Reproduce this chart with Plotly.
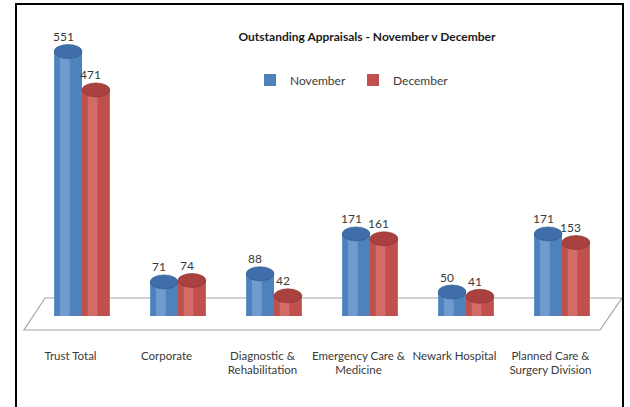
import plotly.graph_objects as go

# ---- data ----
categories = ["Trust Total", "Corporate", "Diagnostic &<br>Rehabilitation",
              "Emergency Care &<br>Medicine", "Newark Hospital",
              "Planned Care &<br>Surgery Division"]
november = [551, 71, 88, 171, 50, 171]
december = [471, 74, 42, 161, 41, 153]
series_names = ["November", "December"]
title_text = "Outstanding Appraisals - November v December"

# ---- layout constants ----
WIDTH, HEIGHT = 630, 407
ML, MR, MT, MB = 34, 20, 28, 91
PW = WIDTH - ML - MR
PH = HEIGHT - MT - MB
FONT = "Lato, Carlito, sans-serif"
TXT = "#3a3a3a"

def px_x(p):
    return (p - ML) / PW

def px_y(p):
    return (HEIGHT - MB - p) / PH

BW = 0.29
idx = list(range(len(categories)))
offsets = [-BW / 2, BW / 2]
body_colors = ["#4F81BD", "#C0504D"]
cap_colors = ["#3F6EAA", "#A9423F"]
edge_colors = ["#2F5A8C", "#8C3330"]
hi_colors = ["rgba(140,175,225,0.55)", "rgba(225,130,125,0.55)"]

fig = go.Figure()
shapes = []

# floor (decoration)
shapes.append(dict(
    type="path", xref="paper", yref="paper", layer="below",
    path=(f"M {px_x(45)} {px_y(298)} L {px_x(622)} {px_y(298)} "
          f"L {px_x(600)} {px_y(330)} L {px_x(24)} {px_y(330)} Z"),
    fillcolor="white", line=dict(color="#A6A6A6", width=1.2)))

for s, (name, vals) in enumerate(zip(series_names, [november, december])):
    xs = [i + offsets[s] for i in idx]
    fig.add_trace(go.Bar(
        x=xs, y=vals, width=BW, name=name,
        marker=dict(color=body_colors[s], line=dict(width=0)),
        hoverinfo="name+y"))
    # highlight strip for cylinder look
    fig.add_trace(go.Bar(
        x=[x - BW * 0.12 for x in xs], y=vals, width=BW * 0.35,
        marker=dict(color=hi_colors[s], line=dict(width=0)),
        showlegend=False, hoverinfo="skip"))
    for x, v in zip(xs, vals):
        # bottom ellipse
        shapes.append(dict(type="circle", xref="x", yref="y", layer="below",
                           x0=x - BW / 2, x1=x + BW / 2,
                           ysizemode="pixel", yanchor=0, y0=-5, y1=5,
                           fillcolor=body_colors[s], line=dict(width=0)))
        # top cap
        shapes.append(dict(type="circle", xref="x", yref="y", layer="above",
                           x0=x - BW / 2, x1=x + BW / 2,
                           ysizemode="pixel", yanchor=v, y0=-7, y1=7,
                           fillcolor=cap_colors[s],
                           line=dict(color=edge_colors[s], width=0.6)))
        fig.add_annotation(x=x, y=v, xref="x", yref="y", text=str(v),
                           showarrow=False, yshift=15, xshift=-5,
                           font=dict(family=FONT, size=12, color=TXT))

# outer border (left, top, right)
shapes.append(dict(type="path", xref="paper", yref="paper", layer="above",
                   path=(f"M {px_x(16)} {px_y(420)} L {px_x(16)} {px_y(4)} "
                         f"L {px_x(623)} {px_y(4)} L {px_x(623)} {px_y(420)}"),
                   line=dict(color="black", width=2)))

fig.update_layout(
    width=WIDTH, height=HEIGHT,
    margin=dict(l=ML, r=MR, t=MT, b=MB),
    paper_bgcolor="white", plot_bgcolor="white",
    barmode="overlay",
    shapes=shapes,
    font=dict(family=FONT, size=12, color=TXT),
    title=dict(text="<b>" + title_text + "</b>", x=px_x(367), xref="paper",
               xanchor="center", y=1 - 37 / HEIGHT, yanchor="middle",
               font=dict(family=FONT, size=12, color="#1a1a1a")),
    legend=dict(orientation="h", x=px_x(250), y=px_y(80), xanchor="left",
                yanchor="middle", bgcolor="rgba(0,0,0,0)",
                entrywidth=58, entrywidthmode="pixels",
                font=dict(family=FONT, size=12, color=TXT)),
    xaxis=dict(range=[-0.5, 5.5], tickvals=[i - 0.12 for i in idx],
               ticktext=categories, showgrid=False, zeroline=False,
               showline=False, ticks="", ticklabelstandoff=31,
               tickangle=0, automargin=False,
               tickfont=dict(family=FONT, size=11.5, color=TXT)),
    yaxis=dict(range=[0, 600], visible=False, automargin=False),
    showlegend=True,
)

fig.write_html("out.html", config={"displayModeBar": False},
               post_script="document.body.style.margin='0';")
